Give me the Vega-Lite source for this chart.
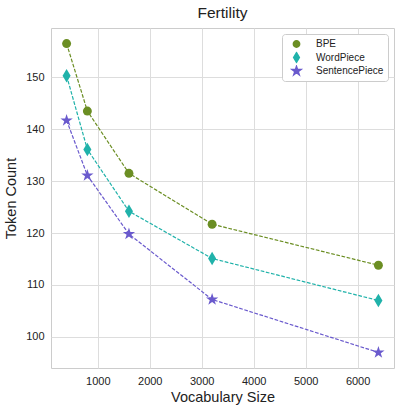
{
  "$schema": "https://vega.github.io/schema/vega-lite/v6.json",
  "width": 343,
  "height": 340,
  "padding": {"left": 3, "top": 5, "right": 5, "bottom": 5},
  "background": "white",
  "config": {
    "font": "Liberation Sans",
    "view": {"stroke": "#cccccc", "strokeWidth": 1}
  },
  "title": {"text": "Fertility", "fontSize": 15.5, "fontWeight": "normal", "font": "Liberation Sans", "color": "#222222", "offset": 7},
  "data": {
    "values": [
      {"vocab": 400, "count": 156.5, "method": "BPE"},
      {"vocab": 800, "count": 143.5, "method": "BPE"},
      {"vocab": 1600, "count": 131.5, "method": "BPE"},
      {"vocab": 3200, "count": 121.7, "method": "BPE"},
      {"vocab": 6400, "count": 113.8, "method": "BPE"},
      {"vocab": 400, "count": 150.3, "method": "WordPiece"},
      {"vocab": 800, "count": 136.1, "method": "WordPiece"},
      {"vocab": 1600, "count": 124.2, "method": "WordPiece"},
      {"vocab": 3200, "count": 115.1, "method": "WordPiece"},
      {"vocab": 6400, "count": 107.0, "method": "WordPiece"},
      {"vocab": 400, "count": 141.7, "method": "SentencePiece"},
      {"vocab": 800, "count": 131.1, "method": "SentencePiece"},
      {"vocab": 1600, "count": 119.8, "method": "SentencePiece"},
      {"vocab": 3200, "count": 107.2, "method": "SentencePiece"},
      {"vocab": 6400, "count": 97.0, "method": "SentencePiece"}
    ]
  },
  "encoding": {
    "x": {
      "field": "vocab", "type": "quantitative",
      "scale": {"domain": [100, 6700], "nice": false, "zero": false},
      "axis": {"title": "Vocabulary Size", "values": [1000, 2000, 3000, 4000, 5000, 6000], "format": "d",
        "titleFontSize": 14.5, "titleFontWeight": "normal", "titleColor": "#222222", "labelFontSize": 11, "labelColor": "#222222",
        "domain": false, "ticks": false, "labelPadding": 7, "gridColor": "#dddddd", "titlePadding": 4}
    },
    "y": {
      "field": "count", "type": "quantitative",
      "scale": {"domain": [94, 159.5], "nice": false, "zero": false},
      "axis": {"title": "Token Count", "values": [100, 110, 120, 130, 140, 150],
        "titleFontSize": 14.5, "titleFontWeight": "normal", "titleColor": "#222222", "labelFontSize": 11, "labelColor": "#222222",
        "domain": false, "ticks": false, "labelPadding": 7, "gridColor": "#dddddd", "titlePadding": 7}
    },
    "color": {
      "field": "method", "type": "nominal",
      "scale": {"domain": ["BPE", "WordPiece", "SentencePiece"], "range": ["#6b8e23", "#20b2aa", "#6a5acd"]},
      "legend": {
        "title": null, "orient": "top-right", "offset": 6,
        "strokeColor": "#cccccc", "fillColor": "white", "cornerRadius": 3, "padding": 4,
        "labelFontSize": 10, "labelColor": "#222222", "symbolSize": 40, "rowPadding": 1.5, "clipHeight": 12,
        "symbolOffset": 5.5, "labelOffset": 14.5
      }
    }
  },
  "layer": [
    {
      "mark": {"type": "line", "strokeDash": [3.7, 1.6], "strokeWidth": 1.2}
    },
    {
      "mark": {"type": "point", "filled": true, "opacity": 1, "size": 80},
      "encoding": {
        "shape": {
          "field": "method", "type": "nominal",
          "scale": {"domain": ["BPE", "WordPiece", "SentencePiece"],
            "range": ["circle", "M0,-1.5L0.9,0L0,1.5L-0.9,0Z", "M0,-1.45L0.326,-0.448L1.379,-0.448L0.526,0.171L0.853,1.173L0,0.554L-0.853,1.173L-0.526,0.171L-1.379,-0.448L-0.326,-0.448Z"]},
          "legend": {
            "title": null, "orient": "top-right", "offset": 6,
            "strokeColor": "#cccccc", "fillColor": "white", "cornerRadius": 3, "padding": 4,
            "labelFontSize": 10, "labelColor": "#222222", "symbolSize": 40, "rowPadding": 1.5, "clipHeight": 12,
            "symbolOffset": 5.5, "labelOffset": 14.5
          }
        }
      }
    }
  ]
}
